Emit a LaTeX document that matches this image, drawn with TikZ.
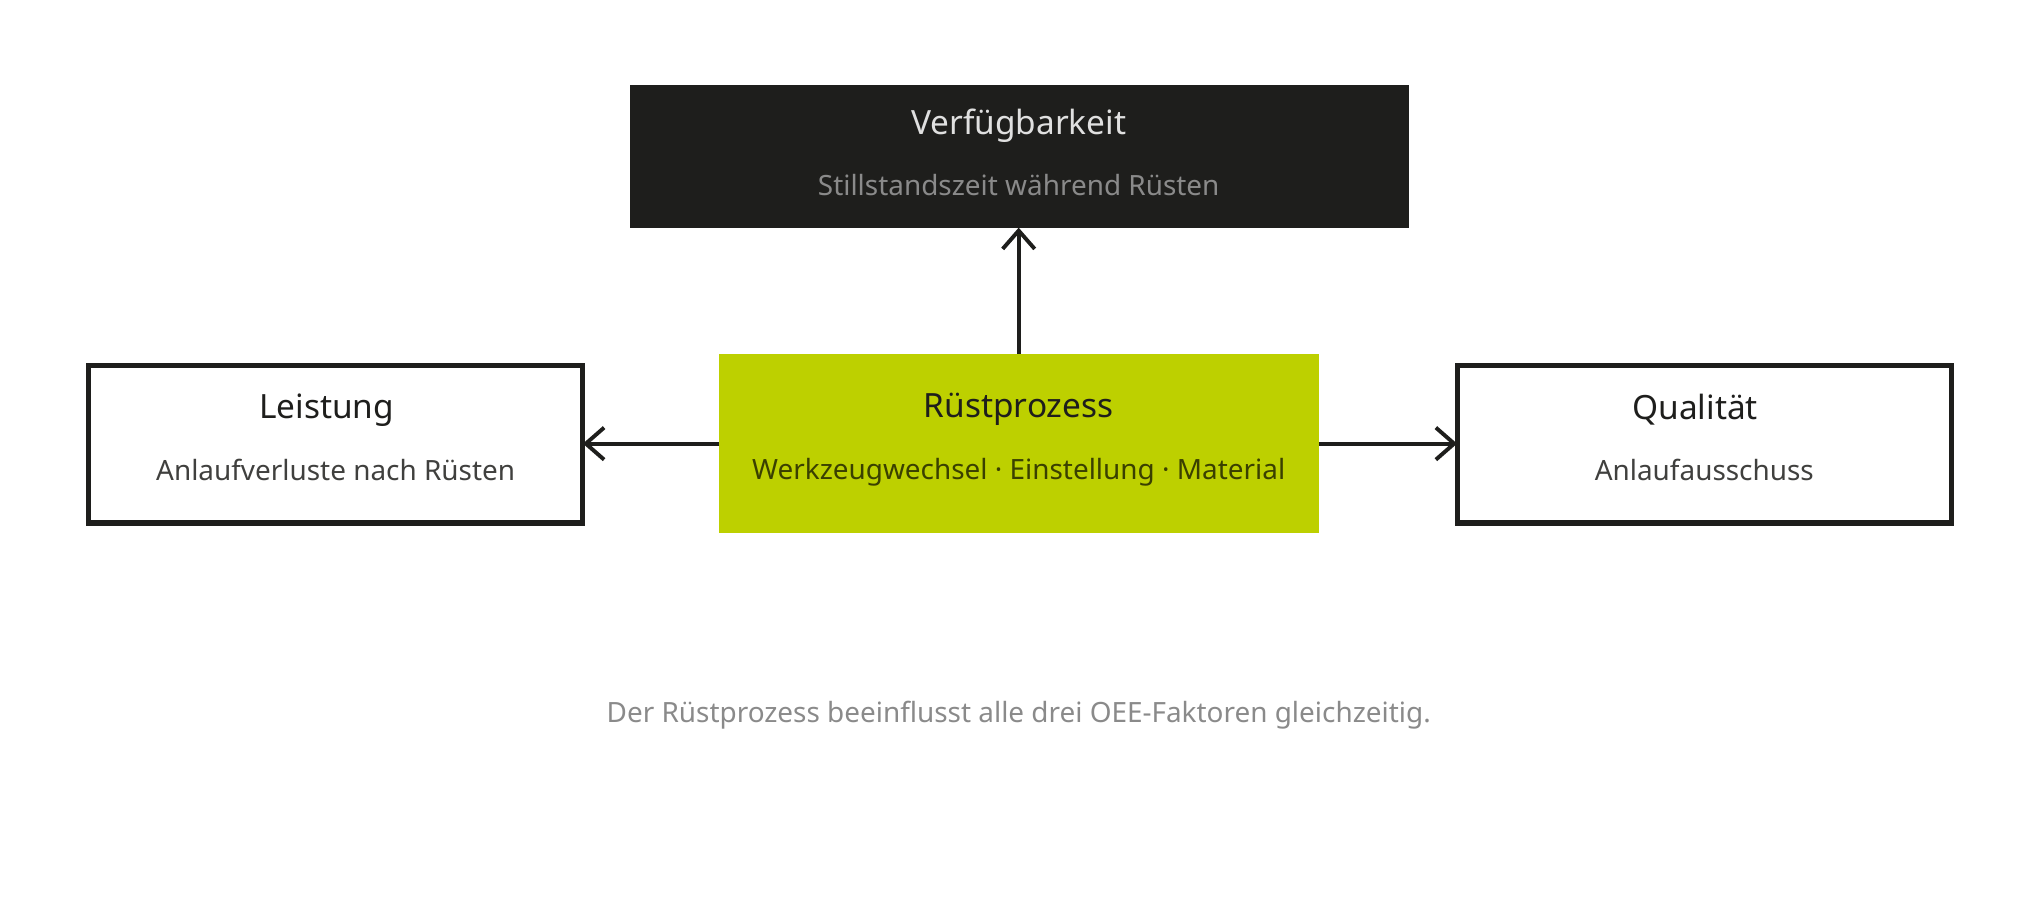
\documentclass[tikz,border=0pt]{standalone}
\usepackage{fontspec}
\setmainfont{Noto Sans}
\usetikzlibrary{arrows.meta}
\definecolor{dark}{HTML}{1E1E1C}
\definecolor{lime}{HTML}{BDD000}
\definecolor{grayt}{HTML}{8A8A8A}
\definecolor{olive}{HTML}{3A4000}
\begin{document}
\begin{tikzpicture}[x=0.01cm,y=-0.01cm,
  ttl/.style={font=\fontsize{7.3}{8}\selectfont},
  sub/.style={font=\fontsize{6.1}{7}\selectfont},
  arr/.style={draw=dark,line width=0.85pt,-{Straight Barb[length=4pt,width=7pt,line width=0.85pt]}}]
\useasboundingbox (0,0) rectangle (1568,692);
\path[fill=dark] (484,65) rectangle (1083,175);
\coordinate (topS) at (783,175);
\node[ttl,text=white!88!black] (topT) at (783,97) {Verfügbarkeit};
\node[sub,text=grayt] (topU) at (783,142) {Stillstandszeit während Rüsten};
\path[fill=lime] (553,272) rectangle (1014,410);
\coordinate (cN) at (783,272);
\coordinate (cW) at (553,341);
\coordinate (cE) at (1014,341);
\node[ttl,text=dark] (cT) at (783,315) {Rüstprozess};
\node[sub,text=olive] (cU) at (783,363) {Werkzeugwechsel · Einstellung · Material};
\draw[draw=dark,line width=1.1pt] (68,281) rectangle (448,402);
\coordinate (lE) at (448,341);
\node[ttl,text=dark] (lT) at (251,315) {Leistung};
\node[sub,text=dark!85] (lU) at (258,361) {Anlaufverluste nach Rüsten};
\draw[draw=dark,line width=1.1pt] (1120,281) rectangle (1500,402);
\coordinate (rW) at (1120,341);
\node[ttl,text=dark] (rT) at (1303,315) {Qualität};
\node[sub,text=dark!85] (rU) at (1310,361) {Anlaufausschuss};
\draw[arr] (cN) -- (topS);
\draw[arr] (cW) -- (lE);
\draw[arr] (cE) -- (rW);
\node[sub,text=grayt] (cap) at (783,550) {Der Rüstprozess beeinflusst alle drei OEE-Faktoren gleichzeitig.};
\end{tikzpicture}
\end{document}
